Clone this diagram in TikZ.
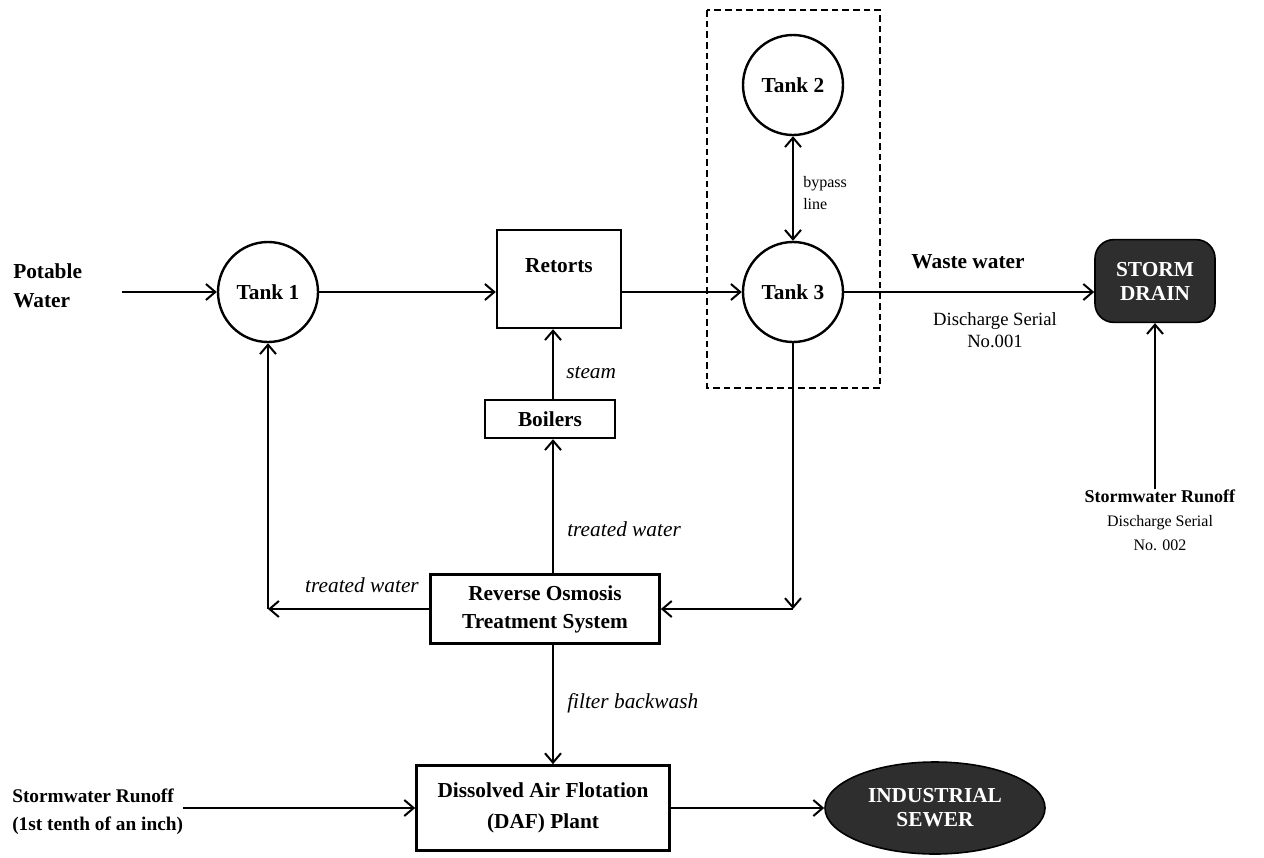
\documentclass[tikz,border=0pt]{standalone}
\usepackage{fontspec}
\setmainfont{Liberation Serif}
\usetikzlibrary{arrows.meta,shapes.geometric}

\tikzset{
  flow/.style={-{Straight Barb[length=7pt,width=12pt,line width=1.5pt]}, line width=1.8pt},
  both/.style={{Straight Barb[length=7pt,width=12pt,line width=1.5pt]}-{Straight Barb[length=7pt,width=12pt,line width=1.5pt]}, line width=1.8pt},
  tank/.style={draw, circle, line width=1.8pt, minimum size=75pt, inner sep=0pt, font=\fontsize{16}{20}\selectfont\bfseries},
  unit/.style={draw, rectangle, line width=1.8pt, inner sep=0pt, align=center, font=\fontsize{16}{21}\selectfont\bfseries},
  lbl/.style={font=\fontsize{16}{22}\selectfont\bfseries, align=left, inner sep=0pt},
  note/.style={font=\fontsize{14}{17}\selectfont, align=center, inner sep=0pt},
  flowtxt/.style={font=\fontsize{16}{19}\selectfont\itshape, inner sep=0pt},
  outlet/.style={fill=black!82, draw=black, line width=1.2pt, text=white, font=\fontsize{16}{18}\selectfont\bfseries, align=center, inner sep=0pt},
}

\begin{document}
\begin{tikzpicture}[x=0.75pt,y=-0.75pt]
\useasboundingbox (0,0) rectangle (1264,857);

% tanks and plant units
\node[tank] (t1) at (268,292) {Tank 1};
\node[tank] (t2) at (793,85) {Tank 2};
\node[tank] (t3) at (793,292) {Tank 3};
\node[unit, minimum width=93pt, minimum height=73.5pt] (ret) at (559,279) {};
\node[lbl] (rettxt) at (559,266) {Retorts};
\node[unit, minimum width=97.5pt, minimum height=28.5pt] (boil) at (550,419) {Boilers};
\node[unit, minimum width=172pt, minimum height=52pt] (ro) at (545,609) {Reverse Osmosis\\Treatment System};
\node[unit, minimum width=190pt, minimum height=64pt, font=\fontsize{16}{23}\selectfont\bfseries] (daf) at (543,808) {Dissolved Air Flotation\\(DAF) Plant};
\node[outlet, rounded corners=14pt, minimum width=90pt, minimum height=62pt] (storm) at (1155,281) {STORM\\DRAIN};
\node[outlet, ellipse, minimum width=165pt, minimum height=69pt] (sewer) at (935,808) {INDUSTRIAL\\SEWER};

% bypass enclosure
\draw[dashed, line width=1.2pt, dash pattern=on 5pt off 3pt] (707,10) rectangle (880,388);

% outside labels
\node[lbl, anchor=west] (pot) at (13,286) {Potable\\Water};
\node[lbl, anchor=west, font=\fontsize{14.5}{21}\selectfont\bfseries] (srun) at (12,812) {Stormwater Runoff\\(1st tenth of an inch)};
\node[note, font=\fontsize{12}{18}\selectfont] (srun2) at (1160,520) {\textbf{\fontsize{13.5}{18}\selectfont Stormwater Runoff}\\Discharge Serial\\No. 002};
\node[lbl] (waste) at (968,262) {Waste water};
\node[note] (ser1) at (995,330) {Discharge Serial\\No.001};
\node[note, font=\fontsize{12}{16}\selectfont, align=left, anchor=west] (bypass) at (803,193) {bypass\\line};

\coordinate (col) at (553,0);
\coordinate (potin) at (122,292);
\coordinate (srin) at (183,808);
\coordinate (cl) at (268,609);
\coordinate (cr) at (793,609);

% flows
\draw[flow] (potin) -- (t1);
\draw[flow] (t1) -- (t1 -| ret.west);
\draw[flow] (ret.east |- t3) -- (t3);
\draw[both] (t2) -- (t3);
\draw[flow] (t3) -- (storm.west |- t3);
\draw[flow] (srun2.north -| storm) -- (storm);
\draw[flow] (boil.north -| col) -- (ret.south -| col);
\draw[flow] (ro.north -| col) -- (boil.south -| col);
\draw[flow] (ro.west) -- (cl);
\draw[flow] (cl) -- (t1);
\draw[flow] (t3) -- (cr);
\draw[flow] (cr) -- (ro.east);
\draw[flow] (ro.south -| col) -- (daf.north -| col);
\draw[flow] (srin) -- (srin -| daf.west);
\draw[flow] (daf) -- (sewer);

% flow labels
\node[flowtxt, anchor=west] (steam) at (566,373) {steam};
\node[flowtxt, anchor=west] (tw1) at (567,529) {treated water};
\node[flowtxt] (tw2) at (362,585) {treated water};
\node[flowtxt, anchor=west] (fb) at (567,703) {filter backwash};
\end{tikzpicture}
\end{document}
